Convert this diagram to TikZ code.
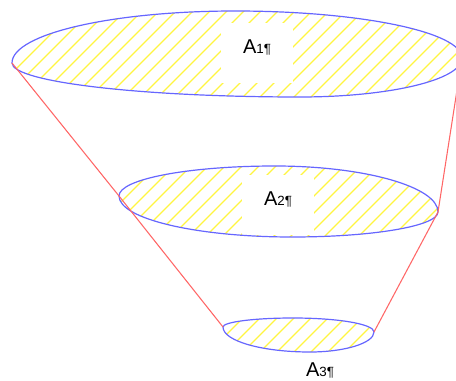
\documentclass[tikz,border=0pt]{standalone}
\usepackage{fontspec}
\setmainfont{Liberation Sans}

% outlines of the three sections, in pixel units
\def\secone{(12,63) .. controls (12,34) and (112,11) .. (235,11)
  .. controls (360,11) and (462,32) .. (462,58)
  .. controls (462,80) and (389,97) .. (300,97)
  .. controls (141,97) and (12,82) .. cycle}
\def\sectwo{(119,196) .. controls (119,179) and (189,166) .. (275,166)
  .. controls (365,166) and (438,187) .. (438,212)
  .. controls (438,226) and (373,237) .. (292,237)
  .. controls (197,237) and (119,219) .. cycle}
\def\secthree{(223,327) .. controls (223,322) and (254,318) .. (293,318)
  .. controls (338,318) and (374,324) .. (374,332)
  .. controls (374,343) and (345,352) .. (310,352)
  .. controls (262,352) and (223,341) .. cycle}

\begin{document}
\begin{tikzpicture}[x=0.75pt,y=-0.75pt,
  hatch/.style={yellow!75!white,line width=0.9pt},
  rim/.style={blue!60!white,line width=0.9pt},
  side/.style={red!60!white,line width=0.8pt},
  lbl/.style={inner sep=0pt,text height=10.5pt,text depth=9.5pt,
    font=\fontsize{15}{17}\selectfont},
  lblbox/.style={lbl,fill=white,minimum width=54pt,minimum height=45pt}]
  \useasboundingbox (0,0) rectangle (456,381);
  % yellow hatching inside each section
  \foreach \sec in {\secone,\sectwo,\secthree} {
    \begin{scope}
      \clip \sec;
      \foreach \c in {0,17,...,850}
        \draw[hatch] (\c,0) -- (\c-420,420);
    \end{scope}
  }
  % labels
  \node[lblbox] (a1) at (257,53) {A{\fontsize{10}{11}\selectfont 1¶}};
  \node[lblbox] (a2) at (278,205) {A{\fontsize{10}{11}\selectfont 2¶}};
  \node[lbl] (a3) at (320,376) {A{\fontsize{10}{11}\selectfont 3¶}};
  % rims
  \foreach \sec in {\secone,\sectwo,\secthree}
    \draw[rim] \sec;
  % end points of the sections
  \coordinate (l1) at (12,63);
  \coordinate (r1) at (462,58);
  \coordinate (l2) at (119,196);
  \coordinate (r2) at (438,212);
  \coordinate (l3) at (223,327);
  \coordinate (r3) at (374,332);
  \draw[side] (l1) -- (l2) -- (l3);
  \draw[side] (r1) -- (r2) -- (r3);
\end{tikzpicture}
\end{document}
